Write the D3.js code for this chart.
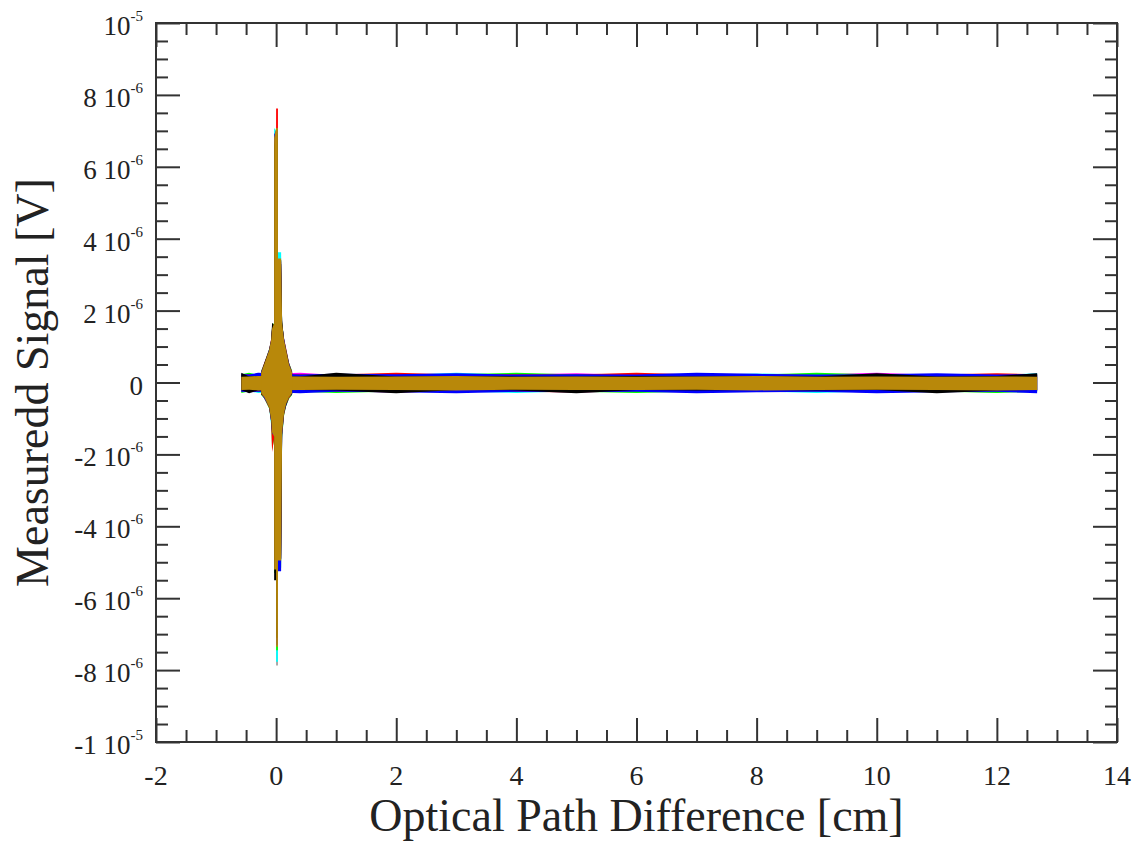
<!DOCTYPE html>
<html>
<head>
<meta charset="utf-8">
<script src="https://cdn.jsdelivr.net/npm/d3@7"></script>
<style>
  body { margin: 0; background: #fff; }
  svg text { font-family: "Liberation Serif", "DejaVu Serif", serif; fill: #222; }
</style>
</head>
<body>
<svg id="chart" width="1133" height="851"></svg>
<script>
// signal values are in 1e-6 V, optical path difference in cm

// flat part of the interferogram (envelope of the noise band)
var bandOpd = [-0.58, -0.45, -0.3, 0.4, 1, 2, 3, 4, 5, 6, 7, 8, 9, 10, 11, 12, 12.67];
// centre burst around zero path difference
var burstOpd = [-0.25, -0.2, -0.117, -0.083, -0.067, -0.034, -0.033, -0.001, 0, 0.03, 0.031, 0.083, 0.1, 0.133, 0.167, 0.216, 0.266];

var grayBandHi = [0.19, 0.20, 0.21, 0.19, 0.20, 0.19, 0.21, 0.20, 0.19, 0.20, 0.21, 0.19, 0.20, 0.21, 0.19, 0.20, 0.20];
var grayBandLo = [-0.23, -0.24, -0.23, -0.24, -0.23, -0.24, -0.24, -0.23, -0.24, -0.23, -0.24, -0.23, -0.23, -0.24, -0.23, -0.24, -0.23];
var grayBurstHi = [0.22, 0.42, 0.80, 1.10, 1.40, 1.55, 6.5, 6.9, 6.9, 6.9, 3.3, 3.3, 1.55, 1.10, 0.82, 0.44, 0.23];
var grayBurstLo = [-0.26, -0.36, -0.62, -1.00, -1.35, -1.45, -5.0, -5.0, -7.87, -7.87, -4.8, -4.8, -1.35, -0.80, -0.55, -0.36, -0.26];

var cyanBandHi = [0.21, 0.26, 0.22, 0.21, 0.22, 0.20, 0.27, 0.21, 0.22, 0.20, 0.21, 0.25, 0.22, 0.21, 0.22, 0.20, 0.26];
var cyanBandLo = [-0.25, -0.24, -0.29, -0.24, -0.25, -0.24, -0.25, -0.29, -0.24, -0.25, -0.24, -0.25, -0.29, -0.24, -0.25, -0.24, -0.25];
var cyanBurstHi = [0.28, 0.50, 0.89, 1.16, 1.50, 1.63, 7.08, 7.0, 7.0, 7.0, 3.62, 3.62, 1.66, 1.18, 0.91, 0.52, 0.29];
var cyanBurstLo = [-0.33, -0.42, -0.70, -1.18, -1.46, -1.55, -5.0, -5.0, -7.77, -7.77, -4.9, -4.9, -1.55, -0.88, -0.63, -0.42, -0.33];

var magentaBandHi = [0.22, 0.21, 0.23, 0.27, 0.21, 0.22, 0.21, 0.22, 0.26, 0.21, 0.23, 0.21, 0.22, 0.27, 0.21, 0.22, 0.21];
var magentaBandLo = [-0.24, -0.25, -0.24, -0.25, -0.24, -0.28, -0.24, -0.25, -0.24, -0.25, -0.28, -0.24, -0.25, -0.24, -0.25, -0.28, -0.24];
var magentaBurstHi = [0.31, 0.54, 0.92, 1.20, 1.52, 1.62, 6.6, 6.9, 6.9, 6.9, 3.35, 3.35, 1.64, 1.22, 0.96, 0.55, 0.30];
var magentaBurstLo = [-0.31, -0.42, -0.70, -1.08, -1.44, -1.52, -5.0, -5.0, -7.2, -7.2, -4.9, -4.9, -1.46, -0.89, -0.64, -0.44, -0.32];

var greenBandHi = [0.23, 0.27, 0.21, 0.22, 0.23, 0.22, 0.23, 0.27, 0.22, 0.23, 0.21, 0.22, 0.27, 0.22, 0.23, 0.21, 0.22];
var greenBandLo = [-0.29, -0.25, -0.25, -0.26, -0.29, -0.25, -0.26, -0.25, -0.26, -0.29, -0.25, -0.26, -0.25, -0.26, -0.25, -0.29, -0.26];
var greenBurstHi = [0.32, 0.53, 0.93, 1.19, 1.56, 1.66, 6.7, 7.0, 7.05, 7.05, 3.4, 3.4, 1.67, 1.21, 0.93, 0.54, 0.33];
var greenBurstLo = [-0.35, -0.44, -0.72, -1.08, -1.88, -1.60, -5.3, -5.3, -7.45, -7.45, -5.15, -5.15, -1.50, -0.91, -0.66, -0.45, -0.35];

var redBandHi = [0.22, 0.23, 0.22, 0.23, 0.22, 0.27, 0.22, 0.23, 0.22, 0.27, 0.22, 0.23, 0.21, 0.22, 0.22, 0.26, 0.23];
var redBandLo = [-0.25, -0.26, -0.25, -0.24, -0.26, -0.25, -0.24, -0.26, -0.28, -0.24, -0.26, -0.25, -0.24, -0.28, -0.24, -0.25, -0.24];
var redBurstHi = [0.29, 0.52, 0.91, 1.20, 1.53, 1.60, 6.7, 7.0, 7.62, 7.62, 3.4, 3.4, 1.62, 1.20, 0.92, 0.53, 0.30];
var redBurstLo = [-0.32, -0.43, -0.70, -1.08, -1.93, -1.56, -5.1, -5.1, -7.2, -7.2, -4.9, -4.9, -1.44, -0.88, -0.63, -0.43, -0.33];

var blueBandHi = [0.24, 0.22, 0.27, 0.22, 0.24, 0.23, 0.26, 0.22, 0.23, 0.22, 0.27, 0.24, 0.22, 0.23, 0.26, 0.22, 0.24];
var blueBandLo = [-0.26, -0.27, -0.26, -0.30, -0.26, -0.27, -0.30, -0.26, -0.27, -0.26, -0.30, -0.27, -0.26, -0.30, -0.27, -0.26, -0.30];
var blueBurstHi = [0.30, 0.49, 0.92, 1.17, 1.48, 1.62, 6.9, 7.0, 7.0, 7.0, 3.4, 3.4, 1.62, 1.22, 0.88, 0.53, 0.27];
var blueBurstLo = [-0.28, -0.44, -0.67, -1.10, -1.42, -1.48, -5.1, -5.1, -7.3, -7.3, -5.25, -5.25, -1.45, -0.84, -0.65, -0.39, -0.33];

var blackBandHi = [0.27, 0.17, 0.18, 0.17, 0.27, 0.17, 0.18, 0.17, 0.17, 0.18, 0.17, 0.18, 0.17, 0.26, 0.17, 0.18, 0.26];
var blackBandLo = [-0.21, -0.30, -0.22, -0.21, -0.22, -0.30, -0.21, -0.22, -0.30, -0.21, -0.22, -0.21, -0.22, -0.21, -0.30, -0.22, -0.21];
var blackBurstHi = [0.25, 0.52, 0.88, 1.15, 1.66, 1.60, 6.6, 6.9, 6.9, 6.9, 3.3, 3.3, 1.72, 1.15, 0.88, 0.49, 0.26];
var blackBurstLo = [-0.33, -0.38, -0.66, -1.02, -1.38, -1.45, -5.5, -5.5, -7.1, -7.1, -4.9, -4.9, -1.35, -0.83, -0.62, -0.38, -0.32];

var goldBandHi = [0.16, 0.17, 0.18, 0.17, 0.16, 0.17, 0.18, 0.16, 0.17, 0.16, 0.17, 0.18, 0.16, 0.17, 0.16, 0.17, 0.16];
var goldBandLo = [-0.21, -0.20, -0.22, -0.21, -0.20, -0.21, -0.22, -0.20, -0.21, -0.21, -0.20, -0.22, -0.21, -0.20, -0.21, -0.22, -0.21];
var goldBurstHi = [0.27, 0.50, 0.90, 1.18, 1.50, 1.65, 6.80, 7.08, 7.08, 7.08, 3.45, 3.45, 1.65, 1.18, 0.90, 0.50, 0.27];
var goldBurstLo = [-0.30, -0.40, -0.68, -1.05, -1.40, -1.50, -5.20, -5.20, -7.35, -7.35, -4.95, -4.95, -1.40, -0.85, -0.60, -0.40, -0.30];

// drawing order, last one on top
var seriesColors = ["#a0a0a0", "#00ffff", "#ff00ff", "#00ff00", "#ff0000", "#0000ff", "#000000", "#b8880a"];
var seriesBandHi = [grayBandHi, cyanBandHi, magentaBandHi, greenBandHi, redBandHi, blueBandHi, blackBandHi, goldBandHi];
var seriesBandLo = [grayBandLo, cyanBandLo, magentaBandLo, greenBandLo, redBandLo, blueBandLo, blackBandLo, goldBandLo];
var seriesBurstHi = [grayBurstHi, cyanBurstHi, magentaBurstHi, greenBurstHi, redBurstHi, blueBurstHi, blackBurstHi, goldBurstHi];
var seriesBurstLo = [grayBurstLo, cyanBurstLo, magentaBurstLo, greenBurstLo, redBurstLo, blueBurstLo, blackBurstLo, goldBurstLo];

var xTicks = [-2, 0, 2, 4, 6, 8, 10, 12, 14];
var yTicks = [-10, -8, -6, -4, -2, 0, 2, 4, 6, 8, 10];
var yTickText = ["-1 10", "-8 10", "-6 10", "-4 10", "-2 10", "0", "2 10", "4 10", "6 10", "8 10", "10"];
var yTickExp = ["-5", "-6", "-6", "-6", "-6", "", "-6", "-6", "-6", "-6", "-5"];

var svg = d3.select("#chart");
var margin = {top: 23, right: 16, bottom: 109, left: 156};
var width = 1133 - margin.left - margin.right,
    height = 851 - margin.top - margin.bottom;

var x = d3.scaleLinear().domain([-2, 14]).range([margin.left, margin.left + width]);
var y = d3.scaleLinear().domain([-10, 10]).range([margin.top + height, margin.top]);

/****** data ******/
var area = d3.area()
    .x(function (d) { return x(d.opd); })
    .y0(function (d) { return y(d.lo); })
    .y1(function (d) { return y(d.hi); });

function rows(opd, hi, lo) {
  return opd.map(function (v, i) { return {opd: v, hi: hi[i], lo: lo[i]}; });
}

var plot = svg.append("g").attr("class", "data");
seriesColors.forEach(function (c, s) {
  plot.append("path")
      .datum(rows(bandOpd, seriesBandHi[s], seriesBandLo[s]))
      .attr("d", area)
      .attr("fill", c);
  plot.append("path")
      .datum(rows(burstOpd, seriesBurstHi[s], seriesBurstLo[s]))
      .attr("d", area)
      .attr("fill", c);
});

/****** frame and ticks ******/
var xMinor = d3.range(-2, 14.01, 0.5).filter(function (v) { return xTicks.indexOf(v) < 0; });
var yMinor = d3.range(-10, 10.01, 0.5).filter(function (v) { return yTicks.indexOf(v) < 0; });

function tickGroup(axis, values, size, transform) {
  svg.append("g")
      .attr("transform", transform)
      .call(axis.tickValues(values).tickSize(size).tickFormat(""))
      .call(function (g) {
        g.select(".domain").remove();
        g.selectAll("line").attr("stroke", "#333").attr("stroke-width", 2);
      });
}

var bottomY = margin.top + height, rightX = margin.left + width;
tickGroup(d3.axisBottom(x), xTicks, -24, "translate(0," + bottomY + ")");
tickGroup(d3.axisBottom(x), xMinor, -12, "translate(0," + bottomY + ")");
tickGroup(d3.axisTop(x), xTicks, -24, "translate(0," + margin.top + ")");
tickGroup(d3.axisTop(x), xMinor, -12, "translate(0," + margin.top + ")");
tickGroup(d3.axisLeft(y), yTicks, -24, "translate(" + margin.left + ",0)");
tickGroup(d3.axisLeft(y), yMinor, -12, "translate(" + margin.left + ",0)");
tickGroup(d3.axisRight(y), yTicks, -24, "translate(" + rightX + ",0)");
tickGroup(d3.axisRight(y), yMinor, -12, "translate(" + rightX + ",0)");

svg.append("rect")
    .attr("x", margin.left).attr("y", margin.top)
    .attr("width", width).attr("height", height)
    .attr("fill", "none").attr("stroke", "#333").attr("stroke-width", 2);

/****** labels ******/
svg.append("g").selectAll("text")
    .data(xTicks)
  .enter().append("text")
    .attr("x", function (d) { return x(d); })
    .attr("y", bottomY + 43)
    .attr("text-anchor", "middle")
    .style("font-size", "28px")
    .text(function (d) { return d; });

var yl = svg.append("g").selectAll("text")
    .data(yTicks)
  .enter().append("text")
    .attr("x", margin.left - 13)
    .attr("y", function (d) { return y(d) + 12; })
    .attr("text-anchor", "end")
    .style("font-size", "27px");
yl.append("tspan").text(function (d, i) { return yTickText[i]; });
yl.append("tspan")
    .attr("dy", -14)
    .style("font-size", "15px")
    .text(function (d, i) { return yTickExp[i]; });

svg.append("text")
    .attr("x", margin.left + width / 2)
    .attr("y", 831)
    .attr("text-anchor", "middle")
    .style("font-size", "46px")
    .text("Optical Path Difference [cm]");

svg.append("text")
    .attr("transform", "translate(48," + (margin.top + height / 2) + ") rotate(-90)")
    .attr("text-anchor", "middle")
    .style("font-size", "46px")
    .text("Measuredd Signal [V]");
</script>
</body>
</html>
